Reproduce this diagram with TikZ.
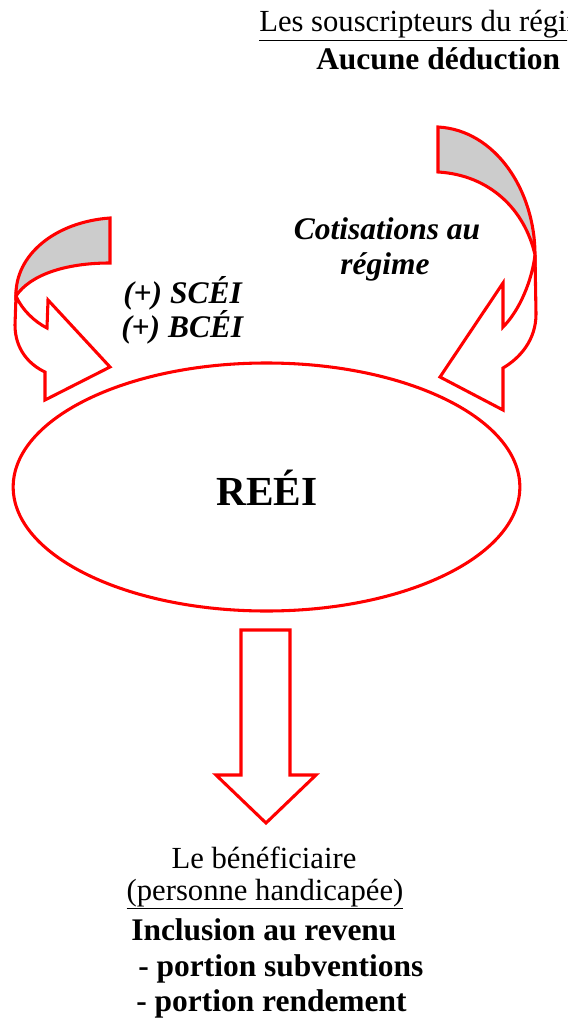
\documentclass[tikz,border=0pt]{standalone}
\usepackage{fontspec}
\setmainfont{Liberation Serif}
\usetikzlibrary{shapes.geometric}
\definecolor{flow}{RGB}{255,0,0}
\definecolor{backside}{RGB}{204,204,204}

\begin{document}
\begin{tikzpicture}[x=0.75pt, y=-0.75pt,
  txt/.style={inner sep=0pt, font=\fontsize{23}{27}\selectfont},
  txtb/.style={inner sep=0pt, font=\fontsize{23.6}{28}\selectfont\bfseries},
  shell/.style={draw=flow, line width=2.3pt, line join=miter, fill=white},
  band/.style={draw=flow, line width=2.3pt, line join=miter, fill=backside},
]
\clip (0,0) rectangle (567,1023);

% plan
\node[ellipse, draw=flow, line width=2.3pt, minimum width=380pt, minimum height=186pt, inner sep=0pt] (reei) at (266.5,487) {};
\node[inner sep=0pt, font=\fontsize{31}{36}\selectfont\bfseries, anchor=base] (reeilabel) at (267,505) {REÉI};

% curved arrow, left (grants)
\draw[band] (110,218) .. controls (55,222) and (15,255) .. (16,296)
  .. controls (30,275) and (65,263) .. (110,263) -- cycle;
\draw[shell] (16,296) -- (15,325) .. controls (15,350) and (30,365) .. (45,372)
  -- (45,400) -- (110,367) -- (48,300) -- (47,328)
  .. controls (35,322) and (22,310) .. (16,296) -- cycle;

% curved arrow, right (contributions)
\draw[band] (438,127) .. controls (495,130) and (535,190) .. (535,255)
  .. controls (525,210) and (490,175) .. (438,172) -- cycle;
\draw[shell] (535,255) -- (536,314) .. controls (536,340) and (520,358) .. (503,368)
  -- (503,410) -- (440,377) -- (503,283) -- (503,327)
  .. controls (520,310) and (532,280) .. (535,255) -- cycle;

% withdrawal arrow
\draw[shell] (241,630) -- (290,630) -- (290,775) -- (316,775) -- (266,823)
  -- (216,775) -- (241,775) -- cycle;

% texts
\node[txt, anchor=base west] (subscribers) at (259,32) {\underline{Les souscripteurs du régime}};
\node[txtb, anchor=base west] (nodeduct) at (316,70) {Aucune déduction};
\node[txtb, anchor=base] (contrib) at (387,240) {\textit{Cotisations au}};
\node[txtb, anchor=base] (contribb) at (385,275) {\textit{régime}};
\node[txtb, anchor=base west] (sceg) at (123,303) {\textit{(+) SCÉI}};
\node[txtb, anchor=base west] (bceg) at (121,337) {\textit{(+) BCÉI}};
\node[txt, anchor=base] (benef) at (264,868) {Le bénéficiaire};
\node[txt, anchor=base] (benefb) at (265,900) {\underline{(personne handicapée)}};
\node[txtb, anchor=base west] (income) at (131,940) {Inclusion au revenu};
\node[txtb, anchor=base west] (grants) at (138,976) {- portion subventions};
\node[txtb, anchor=base west] (yield) at (136,1011) {- portion rendement};
\end{tikzpicture}
\end{document}
